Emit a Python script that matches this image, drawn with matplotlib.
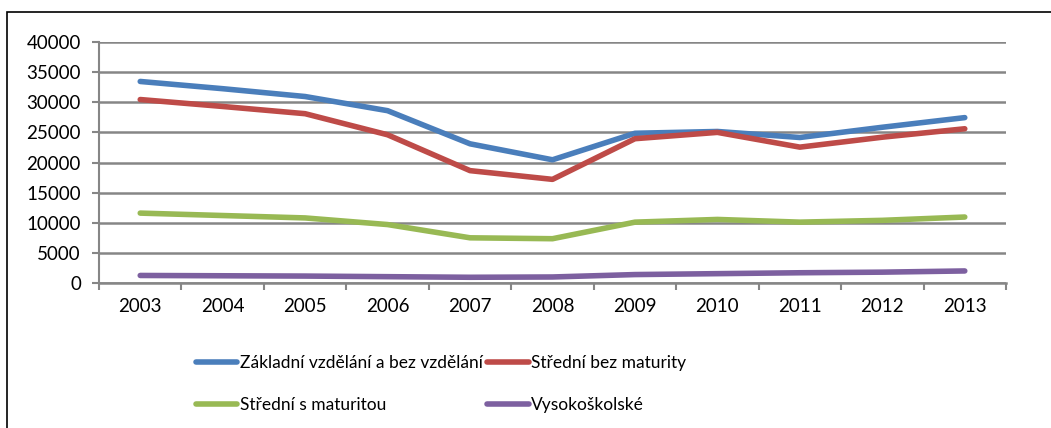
import matplotlib.pyplot as plt
from matplotlib.patches import Rectangle

years = ["2003", "2004", "2005", "2006", "2007", "2008", "2009", "2010", "2011", "2012", "2013"]
zakladni = [33450, 32250, 30950, 28600, 23100, 20450, 24850, 25150, 24150, 25850, 27450]
stredni_bez = [30450, 29300, 28100, 24600, 18650, 17200, 23950, 25000, 22550, 24200, 25600]
stredni_s = [11600, 11200, 10800, 9700, 7500, 7350, 10100, 10550, 10100, 10400, 10950]
vysoko = [1250, 1200, 1150, 1050, 950, 1000, 1400, 1550, 1700, 1800, 2000]

names = ["Základní vzdělání a bez vzdělání", "Střední bez maturity",
         "Střední s maturitou", "Vysokoškolské"]
colors = ["#4a7ebb", "#be4b48", "#98b954", "#7d60a0"]

plt.rcParams['font.family'] = ['Lato', 'DejaVu Sans']

fig = plt.figure(figsize=(10.51, 4.28), dpi=100)
ax = fig.add_axes([99 / 1051, 1 - 283 / 428, 907 / 1051, 241 / 428])

x = list(range(len(years)))
for vals, name, c in zip([zakladni, stredni_bez, stredni_s, vysoko], names, colors):
    ax.plot(x, vals, color=c, lw=4, label=name, solid_capstyle='round', solid_joinstyle='round')

ax.set_xlim(-0.5, len(years) - 0.5)
ax.set_ylim(0, 40000)
ax.set_yticks(range(0, 40001, 5000))
ax.set_xticks(x)
ax.set_xticklabels(years)
ax.set_xticks([i - 0.5 for i in range(len(years) + 1)], minor=True)
ax.grid(axis='y', color='#868686', lw=1.8)
ax.set_axisbelow(True)
for s in ['top', 'right']:
    ax.spines[s].set_visible(False)
ax.spines['left'].set_color('#868686')
ax.spines['bottom'].set_color('#868686')
ax.spines['left'].set_linewidth(1.5)
ax.spines['bottom'].set_linewidth(1.8)
ax.tick_params(axis='x', which='major', length=0, labelsize=13.5, pad=11)
ax.tick_params(axis='x', which='minor', length=5, width=1.5, color='#868686')
ax.tick_params(axis='y', length=5, width=1.5, color='#868686', labelsize=13.5, pad=8)

handles, labels = ax.get_legend_handles_labels()
order = [0, 2, 1, 3]
fig.legend([handles[i] for i in order], [labels[i] for i in order], ncol=2, loc='upper left',
           bbox_to_anchor=(180 / 1051, 1 - 339 / 428),
           frameon=False, fontsize=12.5,
           handlelength=2.4, handletextpad=0.15, columnspacing=0.25, labelspacing=1.5)

fig.patches.append(Rectangle((7 / 1051, -0.1), 1.2, 1 - 12 / 428 + 0.1, transform=fig.transFigure,
                             fill=False, edgecolor='black', lw=1.2))

fig.savefig("out.png", dpi=100)
